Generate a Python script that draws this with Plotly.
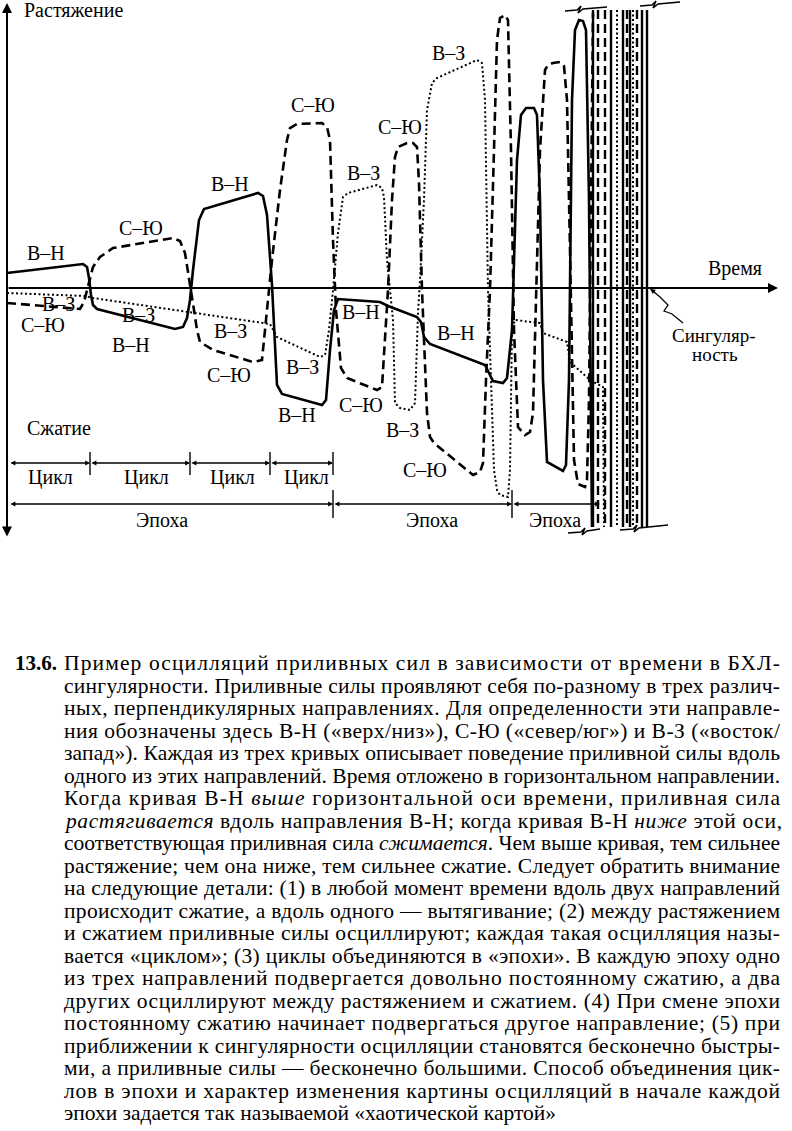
import json
import plotly.graph_objects as go

# ---------------- data (time t, tidal value v; v>0 = stretching) ----------------
bh_t = [7, 83, 87, 89, 91, 93, 97, 175, 183, 187, 190, 193, 199, 204, 258, 263, 267, 272, 277, 282,
        322, 326, 330, 334, 338, 380, 388, 417, 421, 424, 430, 485, 489, 493, 503, 507, 512, 517, 521, 526,
        534, 537, 540, 543, 547, 563, 566, 569, 572, 575, 579, 583, 586, 589, 592]
bh_v = [15, 24, 21, 10, -7, -17, -21, -41, -39, -30, -12, 18, 68, 79, 95, 92, 73, 3, -97, -106,
        -117, -112, -62, -22, -11, -14, -18, -29, -34, -49, -56, -77, -85, -93, -95, -90, -42, 128, 173, 180,
        180, 173, 88, -92, -174, -183, -177, -92, 188, 258, 268, 267, 258, 88, -239]

sn_t = [7, 80, 84, 88, 93, 100, 113, 173, 180, 185, 190, 194, 197, 200, 213, 253, 262, 265, 268, 272,
        280, 287, 290, 297, 322, 327, 330, 333, 336, 338, 341, 347, 377, 382, 385, 388, 392, 395, 398, 407,
        413, 417, 419, 422, 427, 430, 434, 473, 480, 483, 486, 490, 494, 497, 500, 505, 508, 511, 514, 518,
        525, 530, 533, 536, 540, 545, 548, 553, 560, 564, 567, 570, 574, 578, 585, 587, 589, 593]
sn_v = [-15, -21, -14, 3, 21, 31, 40, 50, 47, 35, 5, -22, -42, -54, -62, -74, -72, -42, -12, 28,
        98, 148, 160, 164, 165, 161, 148, 48, -22, -49, -80, -90, -102, -99, -52, -2, 88, 131, 141, 145,
        145, 141, 105, -2, -125, -149, -155, -187, -184, -175, -92, -2, 138, 248, 270, 273, 268, 138, -42, -139,
        -147, -144, -125, -12, 138, 218, 223, 225, 226, 222, 188, 38, -172, -196, -199, -192, -112, 275]

ew_t = [7, 85, 93, 190, 200, 270, 277, 320, 325, 329, 333, 338, 343, 348, 377, 382, 384, 387, 390, 393,
        395, 400, 410, 415, 418, 420, 424, 427, 432, 437, 477, 482, 485, 488, 491, 494, 497, 500, 508, 510,
        512, 515, 540, 543, 567, 570, 590, 603, 604]
ew_v = [-5, -8, -10, -24, -26, -36, -49, -69, -67, -42, -2, 55, 91, 95, 103, 100, 91, 28, -2, -32,
        -115, -120, -122, -115, -25, 8, 88, 178, 205, 210, 228, 225, 188, -2, -92, -182, -202, -207, -209, -182,
        -42, -32, -35, -45, -54, -74, -92, -99, -239]

# near-singularity bundle of ever faster oscillations
cluster_solid = [593, 611, 623, 630, 642, 647]
cluster_dash = [598, 605, 627, 637]
cluster_dot = [617, 633]
cluster_top, cluster_bottom = 278, -239

# break marks of the bundle
brk_top1_t = [565, 577, 581, 578, 583, 607]
brk_top1_v = [277, 278, 282, 275, 279, 281]
brk_top2_t = [640, 652, 656, 653, 658, 680]
brk_top2_v = [282, 283, 287, 280, 284, 286]
brk_bot1_t = [568, 581, 585, 582, 587, 600]
brk_bot1_v = [-245, -244, -240, -247, -243, -241]
brk_bot2_t = [620, 633, 637, 634, 639, 668]
brk_bot2_v = [-242, -241, -237, -244, -240, -237]

# singularity pointer squiggle
sq_t = [683, 672, 664, 668, 660, 654]
sq_v = [-35, -26, -23, -17, -9, -4]

# brackets
cycle_bounds = [9, 90, 190, 270, 333]
cycle_level = -175
epoch_bounds = [9, 333, 512, 600]
epoch_level = -216

# labels: (text, t, v)
curve_labels = [
    ("В–Н", 46, 35), ("В–З", 58, -16), ("С–Ю", 43, -37),
    ("С–Ю", 141, 60), ("В–З", 138, -27), ("В–Н", 131, -57),
    ("В–Н", 230, 104), ("В–З", 230, -43), ("С–Ю", 229, -87),
    ("С–Ю", 313, 183), ("В–З", 302, -79), ("В–Н", 297, -127),
    ("В–Н", 361, -24), ("С–Ю", 361, -117), ("В–З", 363, 115), ("С–Ю", 400, 161),
    ("В–З", 402, -142), ("В–Н", 456, -45), ("С–Ю", 425, -182), ("В–З", 448, 235),
]
cycle_label_t = [50, 146, 232, 306]
epoch_label_t = [162, 432, 555]

caption_lines = [
    "Пример осцилляций приливных сил в зависимости от времени в БХЛ-",
    "сингулярности. Приливные силы проявляют себя по-разному в трех различ-",
    "ных, перпендикулярных направлениях. Для определенности эти направле-",
    "ния обозначены здесь В-Н («верх/низ»), С-Ю («север/юг») и В-З («восток/",
    "запад»). Каждая из трех кривых описывает поведение приливной силы вдоль",
    "одного из этих направлений. Время отложено в горизонтальном направлении.",
    "Когда кривая В-Н <i>выше</i> горизонтальной оси времени, приливная сила",
    "<i>растягивается</i> вдоль направления В-Н; когда кривая В-Н <i>ниже</i> этой оси,",
    "соответствующая приливная сила <i>сжимается</i>. Чем выше кривая, тем сильнее",
    "растяжение; чем она ниже, тем сильнее сжатие. Следует обратить внимание",
    "на следующие детали: (1) в любой момент времени вдоль двух направлений",
    "происходит сжатие, а вдоль одного — вытягивание; (2) между растяжением",
    "и сжатием приливные силы осциллируют; каждая такая осцилляция назы-",
    "вается «циклом»; (3) циклы объединяются в «эпохи». В каждую эпоху одно",
    "из трех направлений подвергается довольно постоянному сжатию, а два",
    "других осциллируют между растяжением и сжатием. (4) При смене эпохи",
    "постоянному сжатию начинает подвергаться другое направление; (5) при",
    "приближении к сингулярности осцилляции становятся бесконечно быстры-",
    "ми, а приливные силы — бесконечно большими. Способ объединения цик-",
    "лов в эпохи и характер изменения картины осцилляций в начале каждой",
    "эпохи задается так называемой «хаотической картой»",
]

# ---------------- figure ----------------
W, H = 792, 1131
TOP = 288  # value at top edge of page
FONT = "'Liberation Serif', 'Times New Roman', 'DejaVu Serif', serif"
K = "black"

fig = go.Figure()


def seg_trace(xs, ys, dash="solid", width=2.0):
    fig.add_trace(go.Scatter(x=xs, y=ys, mode="lines", hoverinfo="skip",
                             line=dict(color=K, width=width, dash=dash)))


seg_trace(ew_t, ew_v, dash="2px,2.5px", width=2.0)
seg_trace(sn_t, sn_v, dash="9px,5px", width=2.6)
seg_trace(bh_t, bh_v, dash="solid", width=2.6)


def vlines(ts):
    xs, ys = [], []
    for t in ts:
        xs += [t, t, None]
        ys += [cluster_top, cluster_bottom, None]
    return xs, ys


x, y = vlines(cluster_solid); seg_trace(x, y, "solid", 2.4)
x, y = vlines(cluster_dash); seg_trace(x, y, "9px,5px", 2.4)
x, y = vlines(cluster_dot); seg_trace(x, y, "2px,2.5px", 2.0)

for bt, bv in [(brk_top1_t, brk_top1_v), (brk_top2_t, brk_top2_v),
               (brk_bot1_t, brk_bot1_v), (brk_bot2_t, brk_bot2_v)]:
    seg_trace(bt, bv, "solid", 1.5)

seg_trace(sq_t, sq_v, "solid", 1.3)

anns = []


def arrow(x0, y0, x1, y1, side="end", head=2, size=1.0, width=1.8):
    anns.append(dict(x=x1, y=y1, ax=x0, ay=y0, xref="x", yref="y", axref="x", ayref="y",
                     text="", showarrow=True, arrowhead=head, arrowside=side,
                     arrowsize=size, arrowwidth=width, arrowcolor=K,
                     standoff=0, startstandoff=0, startarrowhead=head, startarrowsize=size))


# axes
arrow(7, -250, 7, 285, side="end+start", head=2, size=1.0, width=2.0)
arrow(7, 0, 778, 0, side="end", head=2, size=1.0, width=2.0)
arrow(656, -5, 650, -1, side="end", head=2, size=0.8, width=1.3)

# cycle brackets
for a, b in zip(cycle_bounds[:-1], cycle_bounds[1:]):
    arrow(a, cycle_level, b, cycle_level, side="end+start", head=2, size=0.7, width=1.4)
for b in cycle_bounds[1:]:
    fig.add_shape(type="line", x0=b, x1=b, y0=cycle_level + 11, y1=cycle_level - 12,
                  line=dict(color=K, width=1.4))
# epoch brackets
for a, b in zip(epoch_bounds[:-1], epoch_bounds[1:]):
    arrow(a, epoch_level, b, epoch_level, side="end+start", head=2, size=0.7, width=1.4)
for b in epoch_bounds[1:-1]:
    fig.add_shape(type="line", x0=b, x1=b, y0=epoch_level + 14, y1=epoch_level - 14,
                  line=dict(color=K, width=1.4))


def label(text, t, v, size=20, xanchor="center", ref="y"):
    anns.append(dict(x=t, y=v, xref="x", yref=ref, text=text, showarrow=False,
                     xanchor=xanchor, yanchor="middle",
                     font=dict(family=FONT, size=size, color=K)))


label("Растяжение", 22, 278, xanchor="left")
label("Время", 706, 20, xanchor="left")
label("Сжатие", 25, -140, xanchor="left")
label("Сингуляр-", 670, -47, size=19, xanchor="left")
label("ность", 690, -66, size=19, xanchor="left")
for txt, t, v in curve_labels:
    label(txt, t, v)
for t in cycle_label_t:
    label("Цикл", t, cycle_level - 14)
for t in epoch_label_t:
    label("Эпоха", t, epoch_level - 16)

# caption
label("<b>13.6.</b>", 13, TOP - 663, size=21, xanchor="left")
justify = {}
for i, line in enumerate(caption_lines):
    py = 663 + i * 22.5
    if i < len(caption_lines) - 1:
        justify[len(anns)] = 716
    anns.append(dict(x=62, y=TOP - py, xref="x", yref="y", text=line, showarrow=False,
                     xanchor="left", yanchor="middle", align="left",
                     font=dict(family=FONT, size=21.5, color=K)))

fig.update_layout(
    width=W, height=H, margin=dict(l=0, r=0, t=0, b=0, pad=0),
    paper_bgcolor="white", plot_bgcolor="white", showlegend=False,
    xaxis=dict(range=[0, W], visible=False, fixedrange=True),
    yaxis=dict(range=[TOP - H, TOP], visible=False, fixedrange=True),
    annotations=anns,
)

post = """
document.body.style.margin='0';
document.body.style.overflow='hidden';
var gd=document.getElementById('{plot_id}');
var spec=%s;
for (var k in spec){
  var t=gd.querySelector('g.annotation[data-index="'+k+'"] text.annotation-text');
  if(t){t.setAttribute('textLength',spec[k]);t.setAttribute('lengthAdjust','spacing');}
}
""" % json.dumps(justify)

fig.write_html("out.html", config={"displayModeBar": False}, post_script=post)
